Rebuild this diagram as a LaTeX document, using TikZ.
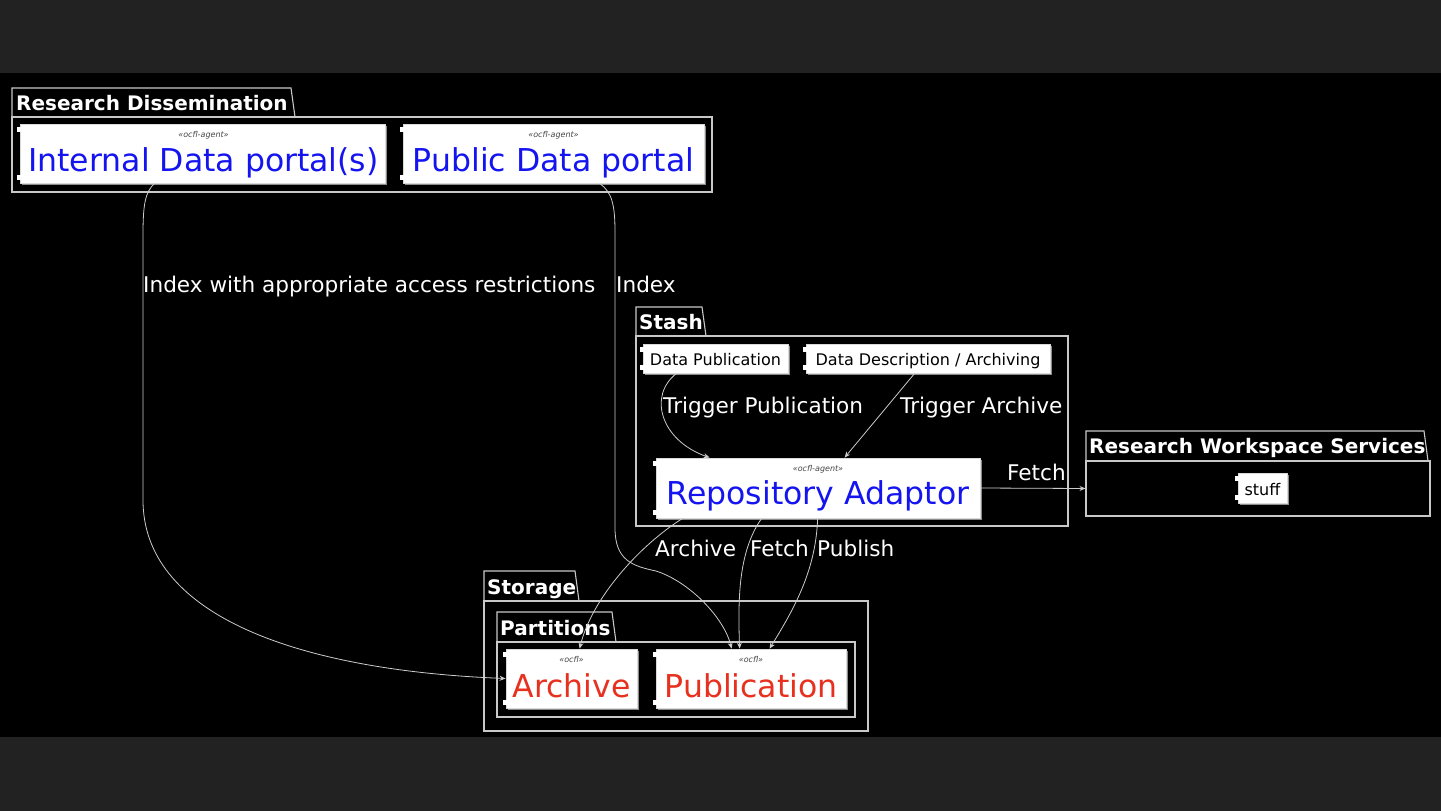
\documentclass[tikz,border=0pt]{standalone}
\usepackage{fontspec}
\setmainfont{DejaVu Sans}
\usetikzlibrary{shadows,fit,arrows.meta}
\definecolor{bgband}{HTML}{222222}
\definecolor{edgec}{HTML}{CCCCCC}
\definecolor{pkgc}{HTML}{C8C8C8}
\definecolor{portalblue}{HTML}{1414F0}
\definecolor{ocflred}{HTML}{E8301E}
\definecolor{stereo}{HTML}{444444}
\newcommand\compticks[1]{%
  \fill[white] ([xshift=-3pt,yshift=-3pt]#1.north west) rectangle ++(6pt,-5pt);
  \fill[white] ([xshift=-3pt,yshift=3pt]#1.south west) rectangle ++(6pt,5pt);}
\begin{document}
\begin{tikzpicture}[x=1pt,y=-1pt,
 comp/.style={draw=white!85!black, fill=white, line width=0.8pt, inner sep=0pt,
   drop shadow={shadow xshift=2pt,shadow yshift=-2pt,fill=black!45,opacity=1}},
 pkg/.style={draw=pkgc, line width=1.1pt},
 pkgbody/.style={pkg, inner sep=0pt},
 ttl/.style={text=white, font=\bfseries\fontsize{20}{24}\selectfont, inner sep=0pt, anchor=base west},
 lbl/.style={text=white, font=\fontsize{21.6}{26}\selectfont, inner sep=0pt, anchor=base west},
 big/.style={font=\fontsize{31.5}{36}\selectfont, inner sep=0pt, anchor=base},
 small/.style={text=black, font=\fontsize{16}{19}\selectfont, inner sep=0pt, anchor=base},
 st/.style={text=stereo, font=\itshape\fontsize{8}{9}\selectfont, inner sep=0pt},
 arr/.style={draw=edgec, line width=0.8pt, -{Stealth[length=6pt,width=5pt,inset=2pt]}},
]
% background
\useasboundingbox (0,0) rectangle (1441,811);
\fill[bgband] (0,0) rectangle (1441,811);
\fill[black] (0,73) rectangle (1441,737);

% ---------- packages ----------
% Research Dissemination
\draw[pkg] (12,117) -- (12,88) -- (291,88) -- (295,117);
\node[pkgbody, fit={(12,117) (712,192)}] (pkgrd) {};
\node[ttl] (trd) at (16,110) {Research Dissemination};
% Stash
\draw[pkg] (636,336) -- (636,307) -- (702,307) -- (706,336);
\node[pkgbody, fit={(636,336) (1068,526)}] (pkgstash) {};
\node[ttl] (tstash) at (639,329) {Stash};
% Research Workspace Services
\draw[pkg] (1086,461) -- (1086,431) -- (1424,431) -- (1428,461);
\node[pkgbody, fit={(1086,461) (1430,516)}] (pkgrws) {};
\node[ttl] (trws) at (1089,453) {Research Workspace Services};
% Storage
\draw[pkg] (484,601) -- (484,571) -- (575,571) -- (579,601);
\node[pkgbody, fit={(484,601) (868,731)}] (pkgstor) {};
\node[ttl] (tstor) at (487,594) {Storage};
% Partitions
\draw[pkg] (497,642) -- (497,612) -- (612,612) -- (616,642);
\node[pkgbody, fit={(497,642) (855,717)}] (pkgpart) {};
\node[ttl] (tpart) at (500,635) {Partitions};

% ---------- components ----------
\node[comp, fit={(20,124) (385,183)}] (ida) {};
\compticks{ida}
\node[st] (sida) at (203.5,135) {«ocfl-agent»};
\node[big, text=portalblue] (tida) at (203.5,171) {Internal Data portal(s)};

\node[comp, fit={(403,124) (704,183)}] (pdp) {};
\compticks{pdp}
\node[st] (spdp) at (553.5,135) {«ocfl-agent»};
\node[big, text=portalblue] (tpdp) at (553.5,171) {Public Data portal};

\node[comp, fit={(643,344) (788,373)}] (dpub) {};
\compticks{dpub}
\node[small] (tdpub) at (715.5,365) {Data Publication};

\node[comp, fit={(806,344) (1050,373)}] (ddesc) {};
\compticks{ddesc}
\node[small] (tddesc) at (928,365) {Data Description / Archiving};

\node[comp, fit={(656,458) (980,518)}] (ra) {};
\compticks{ra}
\node[st] (sra) at (818,469) {«ocfl-agent»};
\node[big, text=portalblue] (tra) at (818,504) {Repository Adaptor};

\node[comp, fit={(1238,473) (1287,503)}] (stuff) {};
\compticks{stuff}
\node[small] (tstuff) at (1262.5,495) {stuff};

\node[comp, fit={(506,649) (637,708)}] (arch) {};
\compticks{arch}
\node[st] (sarch) at (571.5,660) {«ocfl»};
\node[big, text=ocflred] (tarch) at (571.5,697) {Archive};

\node[comp, fit={(656,649) (846,708)}] (publ) {};
\compticks{publ}
\node[st] (spubl) at (751,660) {«ocfl»};
\node[big, text=ocflred] (tpubl) at (751,697) {Publication};

% ---------- connectors ----------
\draw[arr] ([xshift=135pt]ida.south west) .. controls (145,192) and (143,205) .. (143,235)
   -- (143,500) .. controls (143,612) and (290,670) .. (arch.west);
\draw[arr] ([xshift=197pt]pdp.south west) .. controls (612,192) and (615,205) .. (615,232)
   -- (615,528) .. controls (615,560) and (632,566) .. (656,571)
   .. controls (690,582) and (724,618) .. ([xshift=76pt]publ.north west);
\draw[arr] ([xshift=34pt]dpub.south west) .. controls (648,395) and (660,440) .. ([xshift=54pt]ra.north west);
\draw[arr] ([xshift=109pt]ddesc.south west) -- ([xshift=189pt]ra.north west);
\draw[arr] (ra.east) -- (pkgrws.west);
\draw[arr] ([xshift=27pt]ra.south west) .. controls (640,545) and (592,598) .. ([xshift=74pt]arch.north west);
\draw[arr] ([xshift=106pt]ra.south west) .. controls (738,552) and (738,600) .. ([xshift=84pt]publ.north west);
\draw[arr] ([xshift=162pt]ra.south west) .. controls (816,572) and (792,612) .. ([xshift=114pt]publ.north west);

% ---------- labels ----------
\node[lbl] (l1) at (143,292) {Index with appropriate access restrictions};
\node[lbl] (l2) at (616,292) {Index};
\node[lbl] (l3) at (663,413) {Trigger Publication};
\node[lbl] (l4) at (900,413) {Trigger Archive};
\node[lbl] (l5) at (1007,480) {Fetch};
\node[lbl] (l6) at (655,556) {Archive};
\node[lbl] (l7) at (750,556) {Fetch};
\node[lbl] (l8) at (817,556) {Publish};
\end{tikzpicture}
\end{document}
